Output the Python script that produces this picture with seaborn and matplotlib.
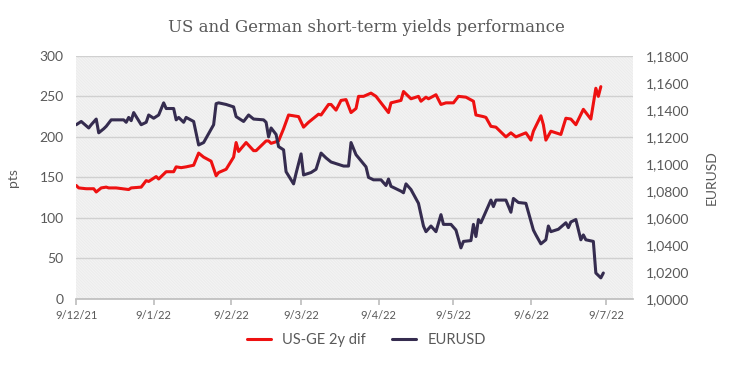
import pandas as pd
import matplotlib.pyplot as plt
import matplotlib.ticker as mticker
from matplotlib.patches import Rectangle
import seaborn as sns

# data
spread_dates = ["2021-12-09", "2021-12-10", "2021-12-13", "2021-12-16", "2021-12-17", "2021-12-19",
                "2021-12-21", "2021-12-22", "2021-12-25", "2021-12-30", "2021-12-31", "2022-01-04",
                "2022-01-06", "2022-01-07", "2022-01-10", "2022-01-11", "2022-01-14", "2022-01-17",
                "2022-01-18", "2022-01-20", "2022-01-22", "2022-01-25", "2022-01-27", "2022-01-29",
                "2022-02-01", "2022-02-03", "2022-02-04", "2022-02-07", "2022-02-08", "2022-02-10",
                "2022-02-11", "2022-02-12", "2022-02-15", "2022-02-18", "2022-02-19", "2022-02-23",
                "2022-02-24", "2022-02-25", "2022-02-28", "2022-03-02", "2022-03-04", "2022-03-08",
                "2022-03-10", "2022-03-12", "2022-03-14", "2022-03-16", "2022-03-17", "2022-03-20",
                "2022-03-21", "2022-03-23", "2022-03-25", "2022-03-27", "2022-03-29", "2022-03-31",
                "2022-04-01", "2022-04-03", "2022-04-06", "2022-04-08", "2022-04-13", "2022-04-14",
                "2022-04-18", "2022-04-19", "2022-04-22", "2022-04-25", "2022-04-26", "2022-04-28",
                "2022-04-29", "2022-05-02", "2022-05-04", "2022-05-06", "2022-05-09", "2022-05-11",
                "2022-05-14", "2022-05-17", "2022-05-18", "2022-05-21", "2022-05-22", "2022-05-24",
                "2022-05-26", "2022-05-30", "2022-06-01", "2022-06-03", "2022-06-07", "2022-06-09",
                "2022-06-10", "2022-06-13", "2022-06-14", "2022-06-15", "2022-06-17", "2022-06-19",
                "2022-06-21", "2022-06-23", "2022-06-25", "2022-06-27", "2022-06-30", "2022-07-03",
                "2022-07-05", "2022-07-06", "2022-07-07"]
spread_pts = [140, 137, 136, 136, 132, 137, 138, 137, 137, 135, 137, 138,
              146, 145, 151, 148, 157, 157, 163, 162, 163, 165, 180, 175,
              170, 152, 156, 160, 165, 175, 193, 182, 193, 183, 183, 195,
              195, 192, 195, 210, 227, 225, 212, 218, 223, 228, 227, 240,
              240, 233, 245, 246, 230, 235, 250, 250, 254, 250, 230, 242,
              245, 256, 247, 250, 244, 249, 247, 252, 240, 242, 242, 250,
              249, 244, 227, 225, 224, 213, 212, 200, 205, 200, 205, 196,
              207, 226, 215, 196, 207, 205, 203, 223, 222, 215, 234, 222,
              260, 250, 262]

eur_dates = ["2021-12-09", "2021-12-11", "2021-12-14", "2021-12-15", "2021-12-17", "2021-12-18",
             "2021-12-20", "2021-12-21", "2021-12-23", "2021-12-28", "2021-12-29", "2021-12-30",
             "2021-12-31", "2022-01-01", "2022-01-04", "2022-01-06", "2022-01-07", "2022-01-09",
             "2022-01-11", "2022-01-13", "2022-01-14", "2022-01-17", "2022-01-18", "2022-01-19",
             "2022-01-21", "2022-01-22", "2022-01-25", "2022-01-27", "2022-01-29", "2022-02-02",
             "2022-02-03", "2022-02-04", "2022-02-07", "2022-02-10", "2022-02-11", "2022-02-14",
             "2022-02-16", "2022-02-18", "2022-02-22", "2022-02-23", "2022-02-24", "2022-02-25",
             "2022-02-27", "2022-02-28", "2022-03-02", "2022-03-03", "2022-03-06", "2022-03-07",
             "2022-03-09", "2022-03-10", "2022-03-13", "2022-03-15", "2022-03-17", "2022-03-19",
             "2022-03-21", "2022-03-24", "2022-03-26", "2022-03-28", "2022-03-29", "2022-03-31",
             "2022-04-04", "2022-04-05", "2022-04-07", "2022-04-10", "2022-04-12", "2022-04-13",
             "2022-04-14", "2022-04-18", "2022-04-19", "2022-04-20", "2022-04-22", "2022-04-25",
             "2022-04-27", "2022-04-28", "2022-04-30", "2022-05-02", "2022-05-04", "2022-05-05",
             "2022-05-08", "2022-05-10", "2022-05-12", "2022-05-13", "2022-05-16", "2022-05-17",
             "2022-05-18", "2022-05-19", "2022-05-20", "2022-05-24", "2022-05-25", "2022-05-26",
             "2022-05-30", "2022-06-01", "2022-06-02", "2022-06-04", "2022-06-07", "2022-06-10",
             "2022-06-11", "2022-06-13", "2022-06-15", "2022-06-16", "2022-06-17", "2022-06-20",
             "2022-06-23", "2022-06-24", "2022-06-25", "2022-06-27", "2022-06-29", "2022-06-30",
             "2022-07-01", "2022-07-04", "2022-07-05", "2022-07-07", "2022-07-08"]
eurusd = [1.1290, 1.1314, 1.1266, 1.1290, 1.1332, 1.1230, 1.1260, 1.1278, 1.1326, 1.1326,
          1.1308, 1.1344, 1.1320, 1.1380, 1.1290, 1.1308, 1.1362, 1.1338, 1.1362, 1.1452,
          1.1410, 1.1410, 1.1326, 1.1344, 1.1308, 1.1344, 1.1314, 1.1140, 1.1158, 1.1290,
          1.1446, 1.1452, 1.1440, 1.1422, 1.1350, 1.1314, 1.1362, 1.1332, 1.1326, 1.1308,
          1.1200, 1.1266, 1.1218, 1.1128, 1.1104, 1.0942, 1.0852, 1.0930, 1.1074, 1.0918,
          1.0936, 1.0960, 1.1080, 1.1044, 1.1014, 1.0996, 1.0984, 1.0984, 1.1158, 1.1068,
          1.0978, 1.0900, 1.0882, 1.0882, 1.0840, 1.0888, 1.0834, 1.0798, 1.0786, 1.0852,
          1.0810, 1.0708, 1.0540, 1.0498, 1.0540, 1.0498, 1.0624, 1.0552, 1.0552, 1.0510,
          1.0378, 1.0426, 1.0432, 1.0552, 1.0462, 1.0588, 1.0564, 1.0732, 1.0684, 1.0732,
          1.0732, 1.0642, 1.0744, 1.0714, 1.0708, 1.0510, 1.0474, 1.0408, 1.0438, 1.0540,
          1.0498, 1.0516, 1.0564, 1.0528, 1.0570, 1.0588, 1.0438, 1.0474, 1.0438, 1.0426,
          1.0192, 1.0156, 1.0192]

x_ticks = ["2021-12-09", "2022-01-09", "2022-02-09", "2022-03-09", "2022-04-09",
           "2022-05-09", "2022-06-09", "2022-07-09"]

spread_df = pd.DataFrame({"date": pd.to_datetime(spread_dates), "pts": spread_pts})
eur_df = pd.DataFrame({"date": pd.to_datetime(eur_dates), "EURUSD": eurusd})

# plotting
sns.set_theme(style="white")
plt.rcParams["font.family"] = ["Lato", "DejaVu Sans"]
plt.rcParams["hatch.linewidth"] = 0.4
plt.rcParams["hatch.color"] = "#e2e2e2"

txt = "#595959"
red = "#ee1111"
dark = "#352c4f"

fig = plt.figure(figsize=(7.33, 3.65), dpi=100)
ax = fig.add_axes([0.104, 0.181, 0.76, 0.666])
ax2 = ax.twinx()

# hatched background
ax.add_patch(Rectangle((0, 0), 1, 1, transform=ax.transAxes, facecolor="white",
                       edgecolor="#e2e2e2", hatch="\\" * 22, linewidth=0, zorder=0))

ax.set_ylim(0, 300)
ax.set_yticks(range(0, 301, 50))
ax.yaxis.grid(True, color="#d0d0d0", linewidth=1)
ax.set_axisbelow(True)
ax2.set_ylim(1.0, 1.18)
ax2.set_yticks([1.0 + 0.02 * i for i in range(10)])
ax2.yaxis.set_major_formatter(mticker.FuncFormatter(lambda v, p: f"{v:.4f}".replace(".", ",")))

sns.lineplot(data=spread_df, x="date", y="pts", color=red, linewidth=2.2, ax=ax,
             label="US-GE 2y dif", legend=False)
sns.lineplot(data=eur_df, x="date", y="EURUSD", color=dark, linewidth=2.2, ax=ax2,
             label="EURUSD", legend=False)

ax.set_xlim(pd.Timestamp("2021-12-09"), pd.Timestamp("2022-07-20"))
tick_dates = pd.to_datetime(x_ticks)
ax.set_xticks(tick_dates)
ax.set_xticklabels([f"{d.day}/{d.month}/{d.strftime('%y')}" for d in tick_dates])

for a in (ax, ax2):
    for s in a.spines.values():
        s.set_visible(False)
ax.spines["bottom"].set_visible(True)
ax.spines["bottom"].set_color("#bfbfbf")

ax.tick_params(axis="x", bottom=True, length=4, color="#bfbfbf", labelsize=8, labelcolor=txt, pad=4)
ax.tick_params(axis="y", left=False, length=0, labelsize=10, labelcolor=txt, pad=9)
ax2.tick_params(axis="y", right=False, length=0, labelsize=10, labelcolor=txt, pad=9)

ax.set_xlabel("")
ax.set_ylabel("pts", color=txt, fontsize=10, labelpad=15)
ax2.set_ylabel("EURUSD", color=txt, fontsize=10, labelpad=12)

fig.suptitle("US and German short-term yields performance", x=0.5, y=1 - 27 / 365, va="center",
             fontsize=12, color=txt, family="DejaVu Serif")

h1, l1 = ax.get_legend_handles_labels()
h2, l2 = ax2.get_legend_handles_labels()
fig.legend(h1 + h2, l1 + l2, loc="center", bbox_to_anchor=(0.5, 1 - 340 / 365), ncol=2,
           frameon=False, fontsize=10.5, labelcolor=txt, handlelength=1.6, columnspacing=1.8)

fig.savefig("out.png", dpi=100)
